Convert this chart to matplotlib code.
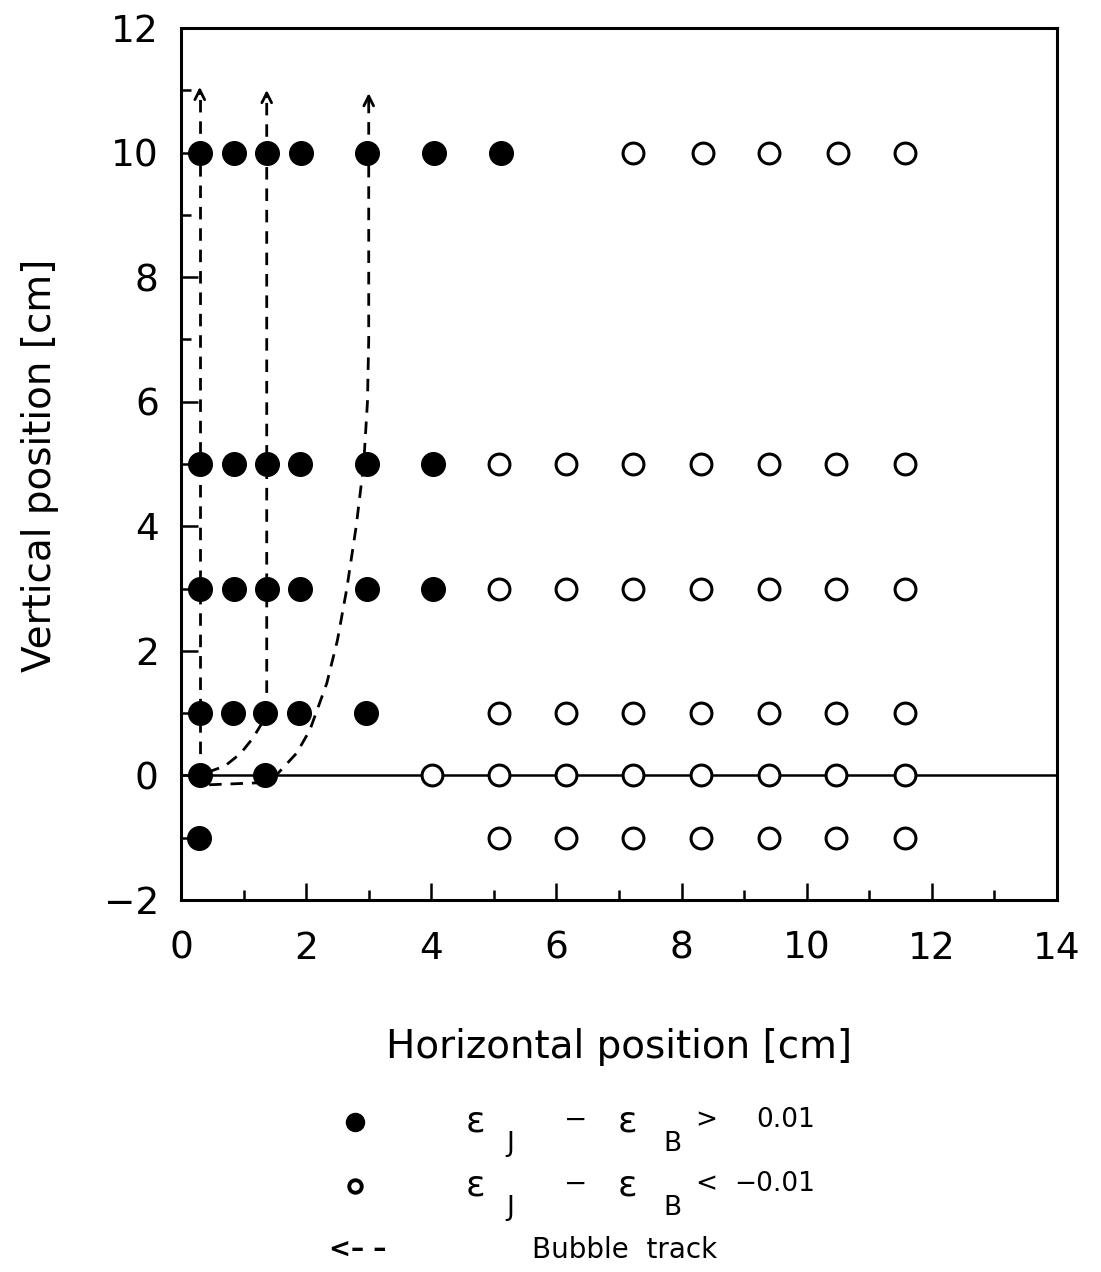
import matplotlib
matplotlib.use("Agg")
import matplotlib.pyplot as plt
from matplotlib.lines import Line2D

# ---- data ----
filled_x = [0.3, 0.85, 1.37, 1.92, 2.98, 4.05, 5.12,
            0.3, 0.85, 1.37, 1.9, 2.98, 4.03,
            0.3, 0.85, 1.37, 1.9, 2.98, 4.03,
            0.3, 0.83, 1.35, 1.88, 2.95,
            0.3, 1.35,
            0.28]
filled_y = [10]*7 + [5]*6 + [3]*6 + [1]*5 + [0]*2 + [-1]

open_x = [7.22, 8.34, 9.40, 10.5, 11.57,
          5.08, 6.15, 7.22, 8.31, 9.40, 10.47, 11.57,
          5.08, 6.15, 7.22, 8.31, 9.40, 10.47, 11.57,
          5.08, 6.15, 7.22, 8.31, 9.40, 10.47, 11.57,
          4.01, 5.08, 6.15, 7.22, 8.31, 9.40, 10.47, 11.57,
          5.08, 6.15, 7.22, 8.31, 9.40, 10.47, 11.57]
open_y = [10]*5 + [5]*7 + [3]*7 + [1]*7 + [0]*8 + [-1]*7

track1_x = [0.3, 0.3]
track1_y = [0.0, 10.95]
track2_x = [0.42, 0.7, 0.95, 1.15, 1.3, 1.37, 1.37]
track2_y = [0.05, 0.15, 0.35, 0.6, 0.85, 1.1, 10.9]
track3_x = [0.45, 1.2, 1.5, 1.85, 2.06, 2.33, 2.5, 2.65, 2.8, 2.92, 2.98, 3.0, 3.0]
track3_y = [-0.15, -0.12, -0.02, 0.36, 0.73, 1.48, 2.17, 3.0, 4.0, 5.0, 6.0, 7.0, 10.85]
tracks = [(track1_x, track1_y), (track2_x, track2_y), (track3_x, track3_y)]

xticks = [0, 2, 4, 6, 8, 10, 12, 14]
yticks = [-2, 0, 2, 4, 6, 8, 10, 12]

W, H = 1101, 1272
fig = plt.figure(figsize=(W/100, H/100), dpi=100)
ax = fig.add_axes([181/W, 1-900/H, (1057-181)/W, (900-28)/H])

ax.set_xlim(0, 14)
ax.set_ylim(-2, 12)
ax.axhline(0, color='black', lw=1.8, zorder=1)

for tx, ty in tracks:
    ax.plot(tx, ty, color='black', lw=2.0, dashes=(4.5, 3.2), zorder=2)
    ax.annotate('', xy=(tx[-1], ty[-1] + 0.15), xytext=(tx[-1], ty[-1] - 0.05),
                arrowprops=dict(arrowstyle='->,head_length=0.7,head_width=0.35',
                                color='black', lw=2.0))

ax.plot(filled_x, filled_y, 'o', ms=17, color='black', zorder=3)
ax.plot(open_x, open_y, 'o', ms=15, mfc='white', mec='black', mew=2.2, zorder=3)

for s in ax.spines.values():
    s.set_linewidth(2.2)

ax.set_xticks(xticks)
ax.set_yticks(yticks)
ax.set_xticks(range(0, 15), minor=True)
ax.set_yticks(range(-2, 13), minor=True)
ax.tick_params(which='major', direction='in', length=12, width=1.8,
               labelsize=27, top=False, right=False)
ax.tick_params(which='minor', direction='in', length=7, width=1.8, top=False, right=False)
ax.tick_params(axis='x', which='major', pad=22)
ax.tick_params(axis='y', which='major', pad=16)
ax.set_xticklabels([str(v) for v in xticks])
ax.set_yticklabels([str(v).replace('-', '\u2212') for v in yticks])

fig.text(619/W, 1-1047/H, 'Horizontal position [cm]', ha='center', va='center', fontsize=28)
fig.text(40/W, 1-465/H, 'Vertical position [cm]', ha='center', va='center',
         rotation=90, fontsize=28)

# legend
def fx(x): return x / W
def fy(y): return 1 - y / H

fig.add_artist(Line2D([fx(355)], [fy(1122)], transform=fig.transFigure,
                      marker='o', ms=13, color='black'))
fig.add_artist(Line2D([fx(355)], [fy(1186)], transform=fig.transFigure,
                      marker='o', ms=9, mfc='white', mec='black', mew=2.8))
for yrow, op, val in [(1122, '>', '0.01'), (1186, '<', '\u22120.01')]:
    fig.text(fx(475), fy(yrow), '\u03b5', ha='center', va='center', fontsize=26)
    fig.text(fx(510), fy(yrow + 22), 'J', ha='center', va='center', fontsize=19)
    fig.text(fx(576), fy(yrow - 2), '\u2212', ha='center', va='center', fontsize=20)
    fig.text(fx(627), fy(yrow), '\u03b5', ha='center', va='center', fontsize=26)
    fig.text(fx(672), fy(yrow + 22), 'B', ha='center', va='center', fontsize=19)
    fig.text(fx(706), fy(yrow - 2), op, ha='center', va='center', fontsize=19)
    fig.text(fx(815), fy(yrow - 2), val, ha='right', va='center', fontsize=19)

fig.text(fx(358), fy(1250), '<\u2013 \u2013', ha='center', va='center', fontsize=19,
         fontweight='bold')
fig.text(fx(625), fy(1250), 'Bubble  track', ha='center', va='center', fontsize=20)

fig.savefig('out.png', dpi=100)
